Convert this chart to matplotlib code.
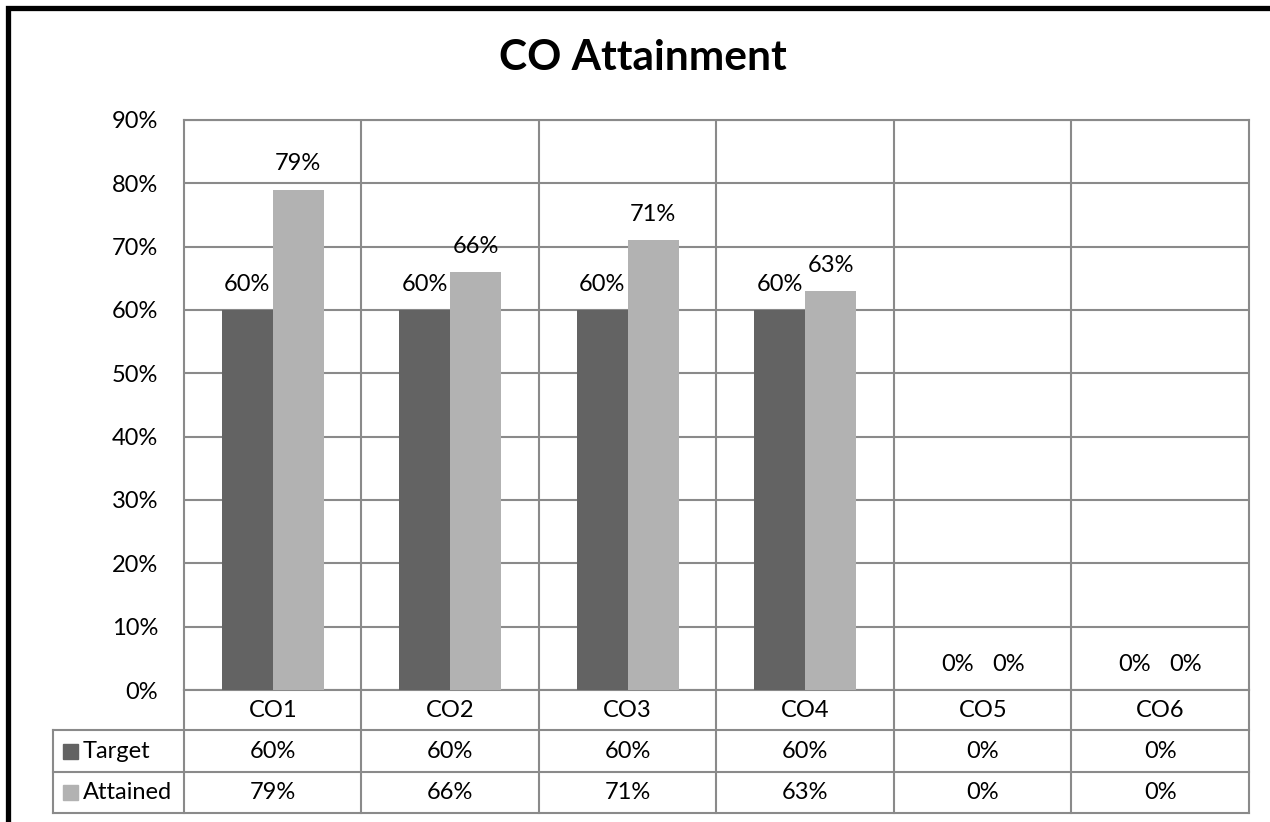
import matplotlib
matplotlib.use("Agg")
import matplotlib.pyplot as plt
from matplotlib import transforms
from matplotlib.patches import Rectangle
import numpy as np

# Chart data
categories = ["CO1", "CO2", "CO3", "CO4", "CO5", "CO6"]
target = [60, 60, 60, 60, 0, 0]
attained = [79, 66, 71, 63, 0, 0]
series_names = ["Target", "Attained"]
y_ticks = [0, 10, 20, 30, 40, 50, 60, 70, 80, 90]
title = "CO Attainment"

plt.rcParams['font.family'] = ['Lato', 'DejaVu Sans']

W, H = 1270, 822
DARK = "#636363"
LIGHT = "#b2b2b2"
GRID = "#8a8a8a"
GRID_LW = 1.5
FS = 17

fig = plt.figure(figsize=(W / 100, H / 100), dpi=100)
fig.patch.set_facecolor("white")

# Plot area in pixel terms
px_left, px_right, px_top, px_bottom = 184, 1249, 120, 690
ax = fig.add_axes([px_left / W, 1 - px_bottom / H,
                   (px_right - px_left) / W, (px_bottom - px_top) / H])

n = len(categories)
x = np.arange(n) + 0.5
bw = 0.288
ax.bar(x - bw / 2, target, bw, color=DARK, zorder=3)
ax.bar(x + bw / 2, attained, bw, color=LIGHT, zorder=3)

ax.set_xlim(0, n)
ax.set_ylim(0, 90)
ax.set_yticks(y_ticks)
ax.set_yticklabels([f"{t}%" for t in y_ticks], fontsize=FS)
ax.set_xticks([])
ax.tick_params(axis="y", length=0, pad=18.5)
ax.yaxis.grid(True, color=GRID, lw=GRID_LW, zorder=0)
ax.set_axisbelow(True)
for i in range(1, n):
    ax.axvline(i, color=GRID, lw=GRID_LW, zorder=0)
for s in ax.spines.values():
    s.set_color(GRID)
    s.set_linewidth(GRID_LW)

# Data labels above bars
for xi, v in zip(x - bw / 2, target):
    ax.annotate(f"{v}%", (xi, v), xytext=(0, 18.5), textcoords="offset points",
                ha="center", va="center", fontsize=FS, zorder=4)
for xi, v in zip(x + bw / 2, attained):
    ax.annotate(f"{v}%", (xi, v), xytext=(0, 18.5), textcoords="offset points",
                ha="center", va="center", fontsize=FS, zorder=4)

# Overlay in pixel units for the data table and frame
ov = fig.add_axes([0, 0, 1, 1], zorder=5)
ov.set_xlim(0, W)
ov.set_ylim(H, 0)
ov.axis("off")
ov.patch.set_visible(False)
blend = transforms.blended_transform_factory(ax.transData, ov.transData)

row_lines = [690, 730, 772, 813]
row_centers = [710, 751, 792]
table_left = 53

for y in row_lines[1:]:
    ov.plot([table_left, px_right], [y, y], color=GRID, lw=GRID_LW, clip_on=False)
for i in range(n + 1):
    ov.plot([i, i], [row_lines[0], row_lines[-1]], color=GRID, lw=GRID_LW,
            transform=blend, clip_on=False)
ov.plot([table_left, table_left], [row_lines[1], row_lines[-1]], color=GRID,
        lw=GRID_LW, clip_on=False)

for xi, cat in zip(x, categories):
    ov.text(xi, row_centers[0], cat, transform=blend, ha="center", va="center",
            fontsize=FS)
for r, (vals, name, col) in enumerate(zip([target, attained], series_names,
                                           [DARK, LIGHT])):
    yc = row_centers[r + 1]
    for xi, v in zip(x, vals):
        ov.text(xi, yc, f"{v}%", transform=blend, ha="center", va="center",
                fontsize=FS)
    ov.add_patch(Rectangle((63, yc - 7.5), 15, 15, color=col))
    ov.text(83, yc, name, ha="left", va="center", fontsize=FS)

# Outer frame
ov.plot([8, 8, W + 20], [H + 20, 8.5, 8.5], color="black", lw=3.8,
        solid_joinstyle="miter", clip_on=False)

fig.text(643 / W, 1 - 58 / H, title, ha="center", va="center",
         fontsize=30.5, fontweight="bold")

fig.savefig("out.png", dpi=100)
